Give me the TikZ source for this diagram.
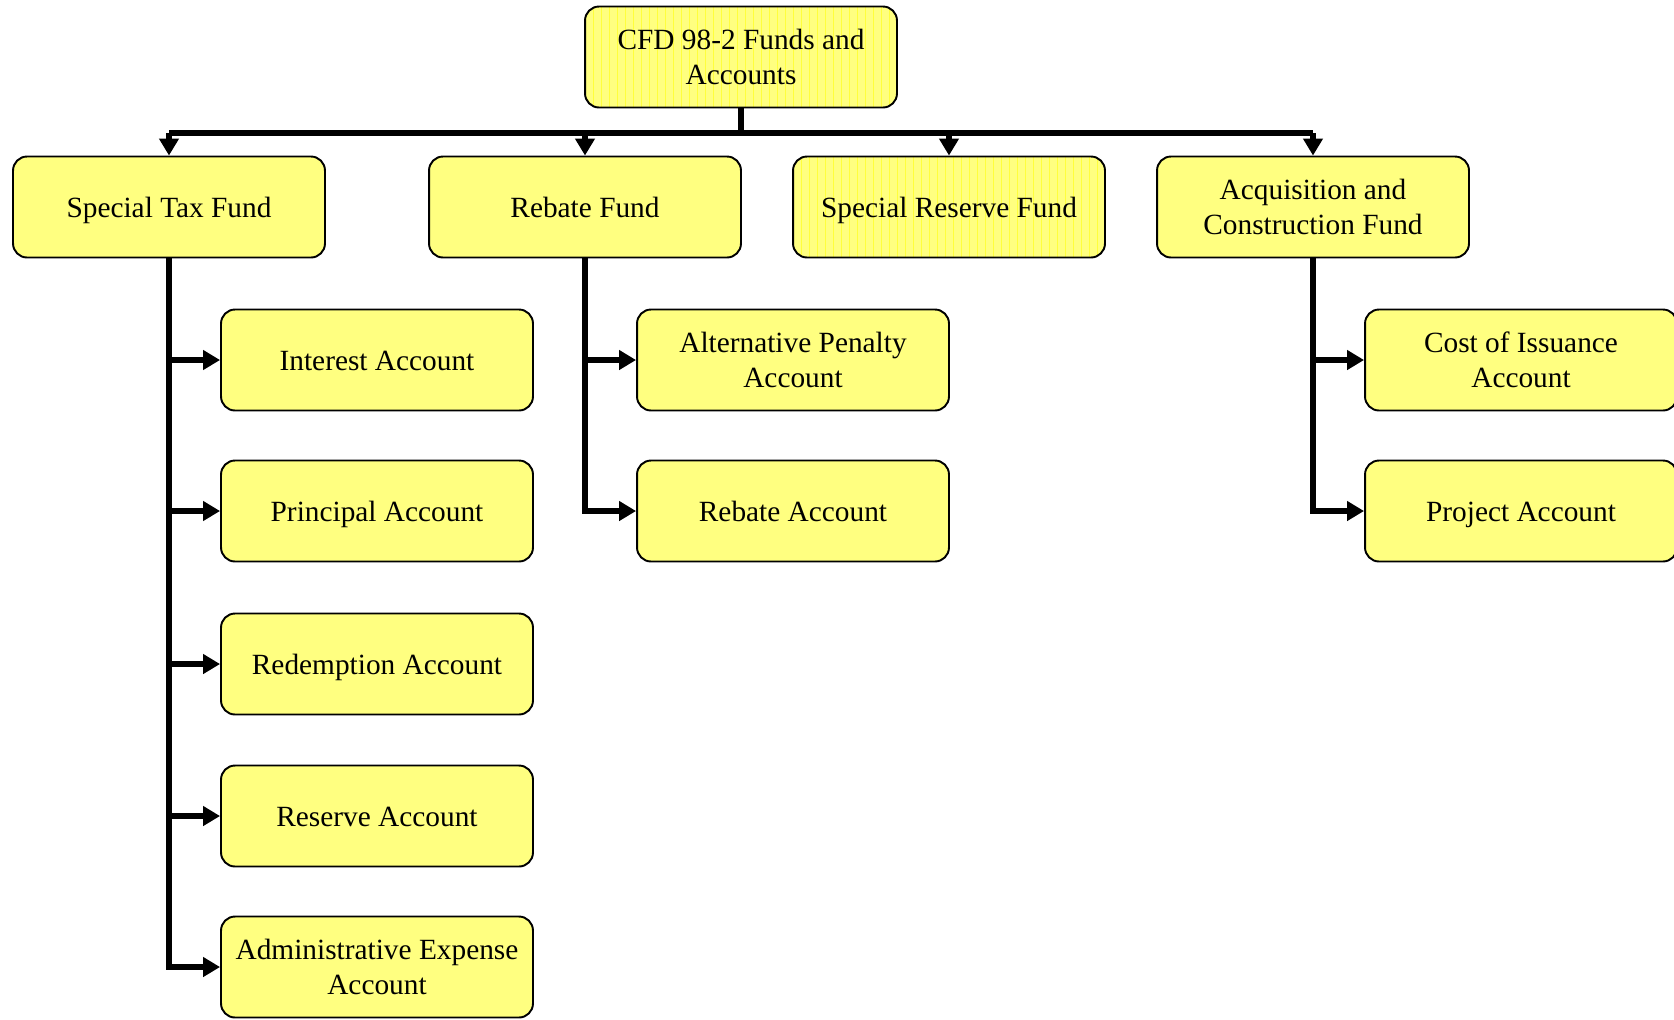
\documentclass[tikz,border=0pt]{standalone}
\usepackage{fontspec}
\setmainfont{Liberation Serif}
\usetikzlibrary{arrows.meta}

\begin{document}
\begin{tikzpicture}[x=0.02cm, y=-0.02cm,
    box/.style={draw=black, line width=1.1pt, fill=boxfill, rounded corners=0.28cm,
        minimum width=6.24cm, minimum height=2.02cm, align=center,
        font=\fontsize{16.7}{20}\selectfont},
    oneline/.style={box, text height=0.55cm, text depth=0.13cm},
    striped/.style={path picture={
        \foreach \i in {0,...,40}
            \draw[stripe, line width=0.5pt] ([xshift=\i*0.16cm]path picture bounding box.south west) -- ++(0,2.2cm);}},
    line/.style={line width=3.4pt},
    conn/.style={line width=3.4pt, -{Triangle[length=0.34cm, width=0.38cm]}},
]
    \definecolor{boxfill}{RGB}{255,255,128}
    \definecolor{stripe}{RGB}{255,255,60}
    \useasboundingbox (0,0) rectangle (1674,1019);

    \node [box, striped] (top) at (741,57) {CFD 98-2 Funds and\\Accounts};

    \node [oneline] (stf) at (169,207) {Special Tax Fund};
    \node [oneline] (rbf) at (585,207) {Rebate Fund};
    \node [oneline, striped] (srf) at (949,207) {Special Reserve Fund};
    \node [box] (acf) at (1313,207) {Acquisition and\\Construction Fund};

    \node [oneline] (int) at (377,360) {Interest Account};
    \node [oneline] (pri) at (377,511) {Principal Account};
    \node [oneline] (red) at (377,664) {Redemption Account};
    \node [oneline] (res) at (377,816) {Reserve Account};
    \node [box] (adm) at (377,967) {Administrative Expense\\Account};

    \node [box] (alt) at (793,360) {Alternative Penalty\\Account};
    \node [oneline] (rba) at (793,511) {Rebate Account};

    \node [box] (coi) at (1521,360) {Cost of Issuance\\Account};
    \node [oneline] (prj) at (1521,511) {Project Account};

    \coordinate (bus) at (741,133);
    \draw [line] (top.south) -- (bus);
    \draw [line] (stf.north |- bus) -- (acf.north |- bus);
    \foreach \n in {stf, rbf, srf, acf}
        \draw [conn] (\n.north |- bus) -- (\n.north);

    \draw [line] (stf.south) -- (stf.south |- adm.west);
    \foreach \n in {int, pri, red, res}
        \draw [conn] (stf.south |- \n.west) -- (\n.west);
    \draw [conn] (stf.south) |- (adm.west);

    \draw [conn] (rbf.south |- alt.west) -- (alt.west);
    \draw [conn] (rbf.south) |- (rba.west);

    \draw [conn] (acf.south |- coi.west) -- (coi.west);
    \draw [conn] (acf.south) |- (prj.west);
\end{tikzpicture}
\end{document}
